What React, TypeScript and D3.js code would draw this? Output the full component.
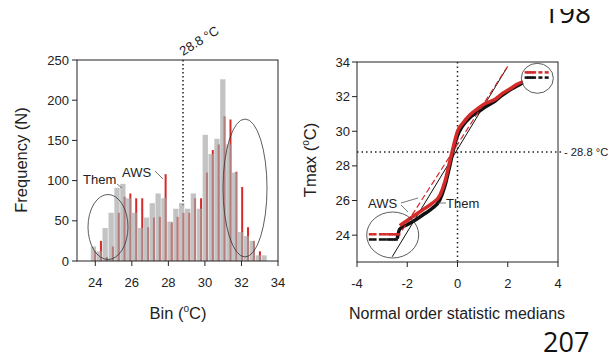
import React from "react";
import * as d3 from "d3";

// histogram bins (°C) and counts
const binCenters = [
  23.9, 24.22, 24.54, 24.87, 25.19, 25.51, 25.83, 26.15, 26.48, 26.8, 27.12, 27.44, 27.76, 28.09, 28.41,
  28.73, 29.05, 29.37, 29.7, 30.02, 30.34, 30.66, 30.98, 31.31, 31.63, 31.95, 32.27, 32.59, 32.92, 33.24,
];
const themFreq = [
  18, 12, 41, 60, 91, 96, 78, 60, 41, 54, 72, 84, 78, 49, 65, 72, 65, 84, 65, 157, 133, 152, 226, 145, 110,
  36, 31, 25, 7, 7,
];
const awsFreq = [
  12, 25, 5, 18, 60, 80, 84, 78, 78, 42, 54, 55, 108, 48, 55, 60, 60, 78, 78, 110, 138, 145, 180, 176, 111,
  92, 42, 25, 12, 0,
];
const histXTicks = [24, 26, 28, 30, 32, 34];
const histYTicks = [0, 50, 100, 150, 200, 250];
const threshold = 28.8;

// normal probability plot
const awsCurve: [number, number][] = [
  [-2.3, 24.55], [-2.0, 24.85], [-1.6, 25.25], [-1.3, 25.55], [-1.0, 25.85], [-0.7, 26.3], [-0.5, 27.1],
  [-0.3, 28.3], [-0.15, 29.2], [0.0, 30.0], [0.2, 30.45], [0.5, 30.95], [0.8, 31.3], [1.1, 31.6],
  [1.5, 31.85], [1.8, 32.2], [2.1, 32.45], [2.35, 32.7], [2.6, 32.85],
];
const themCurve: [number, number][] = [
  [-2.4, 23.8], [-2.3, 24.35], [-2.0, 24.6], [-1.6, 24.95], [-1.3, 25.25], [-1.0, 25.55], [-0.7, 26.05],
  [-0.5, 26.85], [-0.3, 28.05], [-0.15, 29.0], [0.0, 29.75], [0.2, 30.3], [0.5, 30.8], [0.8, 31.1],
  [1.1, 31.4], [1.5, 31.75], [1.8, 32.1], [2.1, 32.4], [2.35, 32.6], [2.6, 32.8],
];
const awsLowTail = [-3.45, -3.3, -3.05, -2.9, -2.75, -2.65, -2.55, -2.45, -2.35];
const themLowTail = [-3.45, -3.3, -3.05, -2.9, -2.75, -2.65, -2.55, -2.45];
const awsHighTail = [2.75, 2.85, 2.95, 3.05, 3.3, 3.55];
const themHighTail = [2.75, 2.85, 2.95, 3.05, 3.3, 3.55];
const awsLowY = 24.05;
const themLowY = 23.75;
const awsHighY = 33.4;
const themHighY = 33.1;
const themFit: [number, number][] = [[-2.6, 22.75], [1.96, 33.65]];
const awsFit: [number, number][] = [[-2.2, 24.28], [2.02, 33.8]];
const qqXTicks = [-4, -2, 0, 2, 4];
const qqYTicks = [24, 26, 28, 30, 32, 34];

const FONT = "'Liberation Sans', Arial, sans-serif";
const RED = "#d42a2a";
const INK = "#222";

export default function App() {
  // left panel scales
  const hx = d3.scaleLinear().domain([23, 34]).range([77, 278]);
  const hy = d3.scaleLinear().domain([0, 250]).range([261, 60]);
  const binW = hx(0.29) - hx(0);

  // right panel scales
  const qx = d3.scaleLinear().domain([-4, 4]).range([357, 558]);
  const qy = d3.scaleLinear().domain([22.45, 34]).range([262, 62]);
  const line = d3
    .line<[number, number]>()
    .x((d) => qx(d[0]))
    .y((d) => qy(d[1]))
    .curve(d3.curveMonotoneX);

  return (
    <svg
      width={608}
      height={356}
      style={{ position: "absolute", left: 0, top: 0, background: "#fff" }}
      fontFamily={FONT}
    >
      <defs>
        <clipPath id="pageTop">
          <rect x={0} y={9} width={608} height={30} />
        </clipPath>
      </defs>

      {/* page numbers */}
      <text x={543} y={23} fontSize={28} fontFamily="'Open Sans', sans-serif" fill="#111" clipPath="url(#pageTop)">
        198
      </text>
      <text x={543} y={352} fontSize={27} fontFamily="'Open Sans', sans-serif" fill="#111">
        207
      </text>

      {/* ---------- histogram ---------- */}
      <line
        x1={hx(threshold)}
        x2={hx(threshold)}
        y1={hy(250)}
        y2={hy(66)}
        stroke={INK}
        strokeWidth={1.5}
        strokeDasharray="1.5,2.5"
      />
      {awsFreq.map((v, i) => (
        <rect
          key={"a" + i}
          x={hx(binCenters[i] + 0.09) - 1}
          y={hy(v)}
          width={2}
          height={hy(0) - hy(v)}
          fill={RED}
        />
      ))}
      {themFreq.map((v, i) => (
        <rect
          key={"t" + i}
          x={hx(binCenters[i]) - binW / 2}
          y={hy(v)}
          width={binW}
          height={hy(0) - hy(v)}
          fill="#a6a6a6"
          opacity={0.68}
        />
      ))}
      <rect x={77} y={60} width={201} height={201} fill="none" stroke={INK} strokeWidth={1} />
      {histYTicks.map((t) => (
        <g key={"hy" + t}>
          <line x1={72} x2={77} y1={hy(t)} y2={hy(t)} stroke={INK} />
          <text x={69} y={hy(t) + 4.5} fontSize={13} textAnchor="end" fill={INK}>
            {t}
          </text>
        </g>
      ))}
      {histXTicks.map((t) => (
        <g key={"hx" + t}>
          <line x1={hx(t)} x2={hx(t)} y1={261} y2={266} stroke={INK} />
          <text x={hx(t)} y={287} fontSize={13} textAnchor="middle" fill={INK}>
            {t}
          </text>
        </g>
      ))}
      <ellipse cx={108} cy={227} rx={20} ry={32.5} fill="none" stroke="#333" strokeWidth={0.8} />
      <ellipse cx={245} cy={188} rx={22} ry={69} fill="none" stroke="#333" strokeWidth={0.8} />
      <text x={83} y={184} fontSize={13} fill={INK}>
        Them
      </text>
      <line x1={117} y1={184} x2={122} y2={188} stroke="#555" strokeWidth={0.8} />
      <text x={122} y={177} fontSize={13} fill={INK}>
        AWS
      </text>
      <line x1={155} y1={171} x2={163} y2={179} stroke="#555" strokeWidth={0.8} />
      <text x={183} y={56} fontSize={13} fill={INK} transform="rotate(-32 183 56)">
        28.8 °C
      </text>
      <text
        x={0}
        y={0}
        fontSize={16.5}
        textAnchor="middle"
        fill={INK}
        transform="translate(27,160) rotate(-90)"
      >
        Frequency (N)
      </text>
      <text x={178} y={319} fontSize={16.5} textAnchor="middle" fill={INK}>
        Bin (<tspan fontSize={10} dy={-7}>o</tspan>
        <tspan dy={7}>C)</tspan>
      </text>

      {/* ---------- normal probability plot ---------- */}
      <line x1={qx(0)} x2={qx(0)} y1={62} y2={262} stroke={INK} strokeWidth={1.5} strokeDasharray="1.5,3" />
      <line x1={357} x2={562} y1={qy(threshold)} y2={qy(threshold)} stroke={INK} strokeWidth={1.5} strokeDasharray="1.5,3" />
      <text x={564} y={qy(threshold) + 4} fontSize={11.2} fill={INK}>
        - 28.8 °C
      </text>
      <path d={line(themFit) || ""} fill="none" stroke="#111" strokeWidth={1} />
      <path d={line(themCurve) || ""} fill="none" stroke="#111" strokeWidth={3.5} />
      {themLowTail.map((x, i) => (
        <rect key={"tl" + i} x={qx(x) - 2} y={qy(themLowY) - 1.25} width={4} height={2.5} fill="#111" />
      ))}
      {themHighTail.map((x, i) => (
        <rect key={"th" + i} x={qx(x) - 2} y={qy(themHighY) - 1.25} width={4} height={2.5} fill="#111" />
      ))}
      <path d={line(awsCurve) || ""} fill="none" stroke={RED} strokeWidth={3.5} />
      {awsLowTail.map((x, i) => (
        <rect key={"al" + i} x={qx(x) - 2} y={qy(awsLowY) - 1.25} width={4} height={2.5} fill={RED} />
      ))}
      {awsHighTail.map((x, i) => (
        <rect key={"ah" + i} x={qx(x) - 2} y={qy(awsHighY) - 1.25} width={4} height={2.5} fill={RED} />
      ))}
      <path d={line(awsFit) || ""} fill="none" stroke={RED} strokeWidth={1.2} strokeDasharray="6,3" />
      <rect x={357} y={62} width={201} height={200} fill="none" stroke={INK} strokeWidth={1} />
      {qqYTicks.map((t) => (
        <g key={"qy" + t}>
          <line x1={352} x2={357} y1={qy(t)} y2={qy(t)} stroke={INK} />
          <text x={350} y={qy(t) + 4.5} fontSize={13} textAnchor="end" fill={INK}>
            {t}
          </text>
        </g>
      ))}
      {qqXTicks.map((t) => (
        <g key={"qx" + t}>
          <line x1={qx(t)} x2={qx(t)} y1={262} y2={267} stroke={INK} />
          <text x={qx(t)} y={288} fontSize={13} textAnchor="middle" fill={INK}>
            {t}
          </text>
        </g>
      ))}
      <ellipse cx={392.7} cy={235} rx={26} ry={23} fill="none" stroke="#333" strokeWidth={0.8} />
      <ellipse cx={537.3} cy={78.3} rx={16} ry={15} fill="none" stroke="#333" strokeWidth={0.8} />
      <text x={368} y={208} fontSize={13} fill={INK}>
        AWS
      </text>
      <line x1={401} y1={203} x2={418} y2={198} stroke="#555" strokeWidth={0.8} />
      <line x1={401} y1={205} x2={408} y2={212} stroke="#555" strokeWidth={0.8} />
      <line x1={438} y1={203} x2={446} y2={203} stroke="#555" strokeWidth={0.8} />
      <text x={446} y={208} fontSize={13} fill={INK}>
        Them
      </text>
      <text
        x={0}
        y={0}
        fontSize={16.5}
        textAnchor="middle"
        fill={INK}
        transform="translate(316,160) rotate(-90)"
      >
        Tmax (<tspan fontSize={10} dy={-7}>o</tspan>
        <tspan dy={7}>C)</tspan>
      </text>
      <text x={457} y={319} fontSize={16} textAnchor="middle" fill={INK}>
        Normal order statistic medians
      </text>
    </svg>
  );
}
